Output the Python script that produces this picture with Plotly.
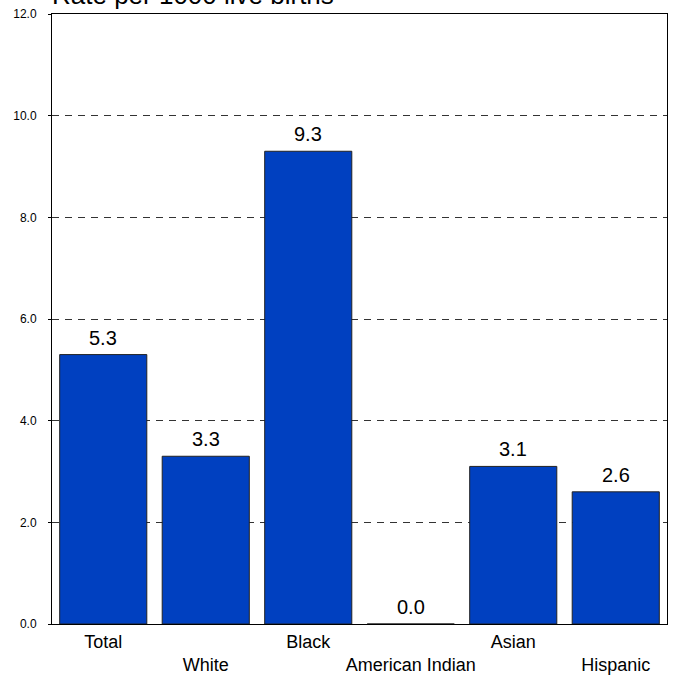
import plotly.graph_objects as go

categories = ["Total", "White", "Black", "American Indian", "Asian", "Hispanic"]
rates = [5.3, 3.3, 9.3, 0.0, 3.1, 2.6]
y_ticks = [0, 2, 4, 6, 8, 10, 12]
title_text = "Rate per 1000 live births"

# staggered category labels (every second label on a second line)
tick_labels = [c if i % 2 == 0 else "<br>" + c for i, c in enumerate(categories)]

fig = go.Figure()
fig.add_trace(go.Bar(
    x=categories,
    y=rates,
    marker=dict(color="#0040C0", line=dict(color="#222222", width=1)),
    hoverinfo="skip",
))

for c, v in zip(categories, rates):
    fig.add_annotation(
        x=c, y=v, xref="x", yref="y",
        text=f"{v:.1f}", showarrow=False,
        yanchor="bottom", yshift=4,
        font=dict(family="Liberation Sans, Arial", size=20, color="#000000"),
    )

fig.add_annotation(
    x=0, y=1, xref="paper", yref="paper",
    xanchor="left", yanchor="bottom", xshift=-2, yshift=2,
    text=title_text, showarrow=False,
    font=dict(family="Liberation Sans, Arial", size=26, color="#000000"),
)

fig.update_layout(
    width=673, height=675,
    margin=dict(l=52, r=6, t=14, b=51, autoexpand=False),
    paper_bgcolor="white", plot_bgcolor="white",
    bargap=0.15,
    showlegend=False,
    font=dict(family="Liberation Sans, Arial", color="#000000"),
)

fig.update_xaxes(
    tickmode="array", tickvals=categories, ticktext=tick_labels,
    tickfont=dict(size=18), automargin=False,
    ticklabelstandoff=1,
    showline=True, linecolor="#000000", linewidth=1, mirror=True,
    ticks="", showgrid=False,
)
fig.update_yaxes(
    range=[0, 12], tickmode="array", tickvals=y_ticks,
    tickformat=".1f", tickfont=dict(size=12), automargin=False,
    ticks="outside", ticklen=3, tickcolor="#000000",
    ticklabelstandoff=9,
    showline=True, linecolor="#000000", linewidth=1, mirror=True,
    showgrid=True, gridcolor="#333333", gridwidth=1, griddash="7px,6px",
    zeroline=False,
)

fig.write_html(
    "out.html",
    config={"displayModeBar": False},
    post_script="document.body.style.margin='0';document.body.style.padding='0';",
)
